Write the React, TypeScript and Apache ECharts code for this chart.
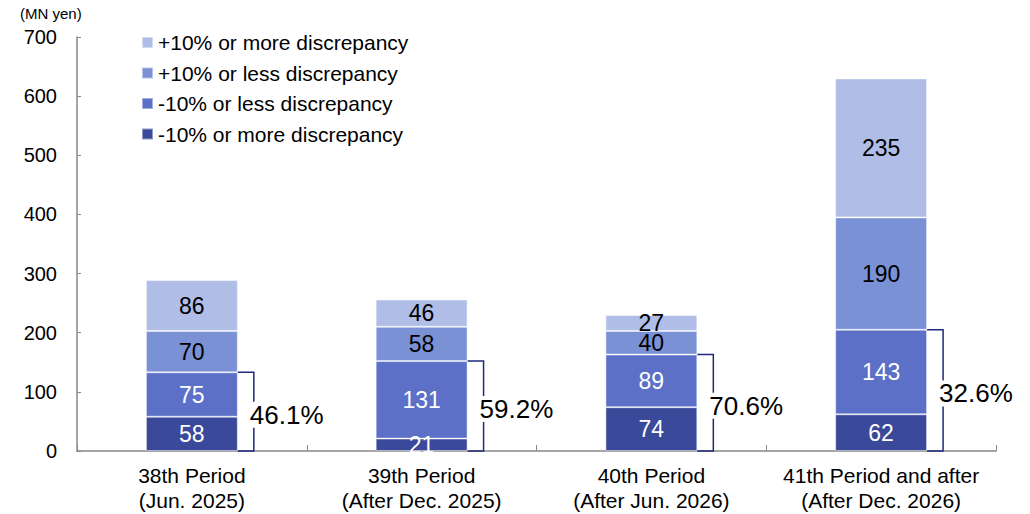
import React, { useEffect, useRef } from "react";
import * as echarts from "echarts";

// Categories and stacked values (MN yen), bottom segment first
const categories = [
  "38th Period\n(Jun. 2025)",
  "39th Period\n(After Dec. 2025)",
  "40th Period\n(After Jun. 2026)",
  "41th Period and after\n(After Dec. 2026)",
];
const minusMore = [58, 21, 74, 62];
const minusLess = [75, 131, 89, 143];
const plusLess = [70, 58, 40, 190];
const plusMore = [86, 46, 27, 235];
const shareLabels = ["46.1%", "59.2%", "70.6%", "32.6%"];
const yTicks = { min: 0, max: 700, interval: 100 };

const seriesNames = [
  "-10% or more discrepancy",
  "-10% or less discrepancy",
  "+10% or less discrepancy",
  "+10% or more discrepancy",
];
const colors = ["#3a4999", "#5b70c6", "#7a91d6", "#afbde7"];
const labelColors = ["#ffffff", "#ffffff", "#000000", "#000000"];
const FONT = "'Liberation Sans', Arial, sans-serif";

export default function App() {
  const ref = useRef<HTMLDivElement>(null);

  useEffect(() => {
    if (!ref.current) return;
    const chart = echarts.init(ref.current, undefined, { renderer: "svg" });
    const values = [minusMore, minusLess, plusLess, plusMore];
    const bracketData = categories.map((_, i) => [i, minusMore[i] + minusLess[i]]);

    const barSeries = values.map((data, k) => ({
      name: seriesNames[k],
      type: "bar",
      stack: "total",
      barWidth: "40%",
      data,
      itemStyle: {
        color: colors[k],
        borderColor: "rgba(255,255,255,0.45)",
        borderWidth: 1,
      },
      label: {
        show: true,
        position: "inside",
        fontSize: 23,
        fontFamily: FONT,
        color: labelColors[k],
        formatter: "{c}",
      },
    }));

    chart.setOption({
      animation: false,
      textStyle: { fontFamily: FONT },
      grid: { left: 77, right: 34, top: 37, bottom: 63 },
      legend: {
        data: [...seriesNames].reverse(),
        orient: "vertical",
        left: 141,
        top: 32,
        padding: 0,
        icon: "rect",
        itemWidth: 11,
        itemHeight: 11,
        itemGap: 9.5,
        textStyle: { fontSize: 21, lineHeight: 21, color: "#000", fontFamily: FONT },
      },
      graphic: [
        {
          type: "text",
          left: 20,
          top: 6,
          style: { text: "(MN yen)", fontSize: 15, fill: "#000", fontFamily: FONT },
        },
      ],
      xAxis: {
        type: "category",
        data: categories,
        axisLine: { lineStyle: { color: "#888", width: 1.5 } },
        axisTick: { show: true, inside: true, length: 6, lineStyle: { color: "#888" } },
        axisLabel: {
          interval: 0,
          fontSize: 21,
          lineHeight: 25,
          color: "#000",
          margin: 12,
          fontFamily: FONT,
        },
      },
      yAxis: {
        type: "value",
        min: yTicks.min,
        max: yTicks.max,
        interval: yTicks.interval,
        axisLine: { show: true, lineStyle: { color: "#888", width: 1.5 } },
        axisTick: { show: true, inside: true, length: 4, lineStyle: { color: "#888" } },
        splitLine: { show: false },
        axisLabel: { fontSize: 20, color: "#000", margin: 20, fontFamily: FONT },
      },
      series: [
        ...barSeries,
        {
          type: "custom",
          name: "share",
          data: bracketData,
          encode: { x: 0, y: 1 },
          z: 5,
          renderItem: (params: any, api: any) => {
            const idx = api.value(0);
            const high = api.value(1);
            const pTop = api.coord([idx, high]);
            const pBot = api.coord([idx, 0]);
            const half = api.size([1, 0])[0] * 0.2;
            const x0 = pTop[0] + half;
            const x1 = x0 + 16;
            return {
              type: "group",
              children: [
                {
                  type: "polyline",
                  shape: {
                    points: [
                      [x0, pTop[1]],
                      [x1, pTop[1]],
                      [x1, pBot[1]],
                      [x0, pBot[1]],
                    ],
                  },
                  style: { stroke: "#1f2a78", lineWidth: 1.5, fill: null },
                },
                {
                  type: "text",
                  x: x1 - 5,
                  y: (pTop[1] + pBot[1]) / 2 + 3,
                  style: {
                    text: shareLabels[idx],
                    fontSize: 26,
                    fontFamily: FONT,
                    fill: "#000",
                    align: "left",
                    verticalAlign: "middle",
                    backgroundColor: "#ffffff",
                    padding: [0, 1, 0, 1],
                  },
                },
              ],
            };
          },
        },
      ],
    });

    return () => chart.dispose();
  }, []);

  return (
    <div
      ref={ref}
      style={{ position: "fixed", left: 0, top: 0, width: 1030, height: 514, background: "#fff" }}
    />
  );
}
